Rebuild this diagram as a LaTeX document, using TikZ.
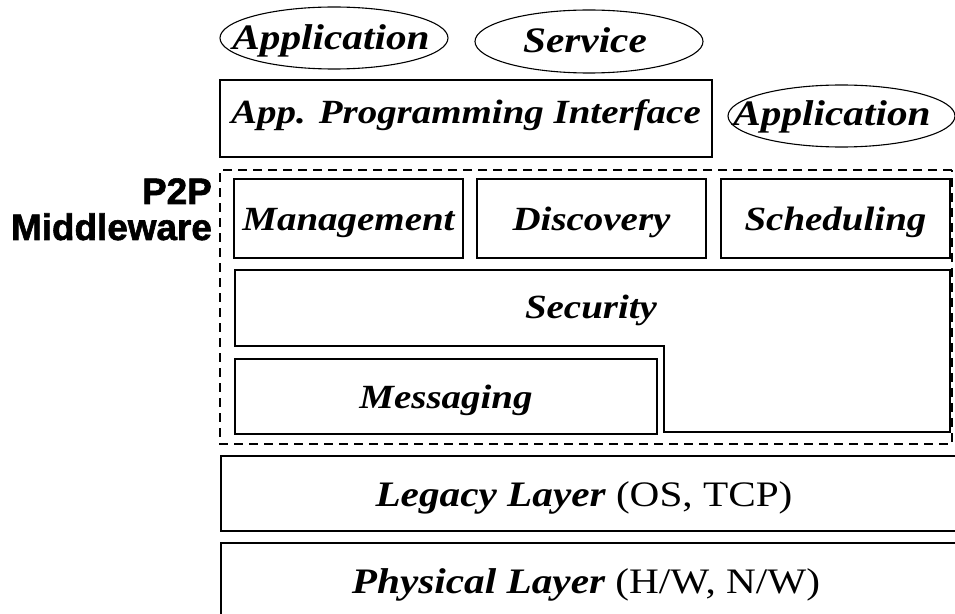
\documentclass[tikz,border=0pt]{standalone}
\usepackage{fontspec}
\setmainfont{Liberation Serif}
\newfontfamily\lblfont[FakeStretch=1.15]{Liberation Serif}
\newfontfamily\headfont[FakeBold=1.6]{Liberation Sans}
\usetikzlibrary{shapes.geometric}

\begin{document}
\begin{tikzpicture}[x=1bp,y=-1bp]
\tikzset{
  layerbox/.style={draw=black, line width=1.3bp, inner sep=0pt},
  oval/.style={draw=black, ellipse, line width=1.1bp, inner sep=0pt},
  lbl/.style={anchor=base, inner sep=0pt, font=\lblfont\bfseries\itshape\fontsize{34}{34}\selectfont},
  biglbl/.style={lbl, font=\lblfont\bfseries\itshape\fontsize{36}{36}\selectfont},
  head/.style={anchor=base east, inner sep=0pt, font=\headfont\bfseries\fontsize{37}{37}\selectfont},
  group/.style={draw=black, line width=1.1bp, dash pattern=on 9bp off 6bp},
}
\useasboundingbox (0,0) rectangle (955,614);

% top row: applications and services
\node[oval, minimum width=228bp, minimum height=62bp] (app1) at (334,38) {};
\node[biglbl] (app1t) at (331,50) {Application};
\node[oval, minimum width=228bp, minimum height=63bp] (svc) at (589,41.5) {};
\node[biglbl] (svct) at (585,53) {Service};

% API layer and the application beside it
\node[layerbox, minimum width=492bp, minimum height=77bp] (api) at (466,118.5) {};
\node[lbl] (apit) at (466,124) {App. Programming Interface};
\node[oval, minimum width=227bp, minimum height=62bp] (app2) at (841.5,116) {};
\node[biglbl] (app2t) at (832,126) {Application};

% P2P middleware group
\draw[group] (952,170) -- (220,170) -- (220,444) -- (952,444) -- cycle;
\node[head] (p2p) at (212,204) {P2P};
\node[head] (mw) at (212,240) {Middleware};

\node[layerbox, minimum width=229bp, minimum height=79bp] (mgmt) at (348.5,218.5) {};
\node[lbl] (mgmtt) at (348.5,231) {Management};
\node[layerbox, minimum width=229bp, minimum height=79bp] (disc) at (591.5,218.5) {};
\node[lbl] (disct) at (591.5,231) {Discovery};
\node[layerbox, minimum width=229bp, minimum height=79bp] (sched) at (835.5,218.5) {};
\node[lbl] (schedt) at (835.5,231) {Scheduling};

% security wraps around the messaging layer
\draw[layerbox] (235,270) -- (950,270) -- (950,432) -- (664,432) -- (664,346) -- (235,346) -- cycle;
\node[lbl] (sect) at (591,318) {Security};
\node[layerbox, minimum width=422bp, minimum height=75bp] (msg) at (446,396.5) {};
\node[lbl] (msgt) at (446,408) {Messaging};

% lower layers run off the right edge
\draw[layerbox] (960,456) -- (221,456) -- (221,531) -- (960,531);
\node[biglbl] (legt) at (584,506) {Legacy Layer {\mdseries\upshape (OS, TCP)}};
\draw[layerbox] (960,543) -- (221,543) -- (221,620);
\node[biglbl] (phyt) at (586,593) {Physical Layer {\mdseries\upshape (H/W, N/W)}};
\end{tikzpicture}
\end{document}
